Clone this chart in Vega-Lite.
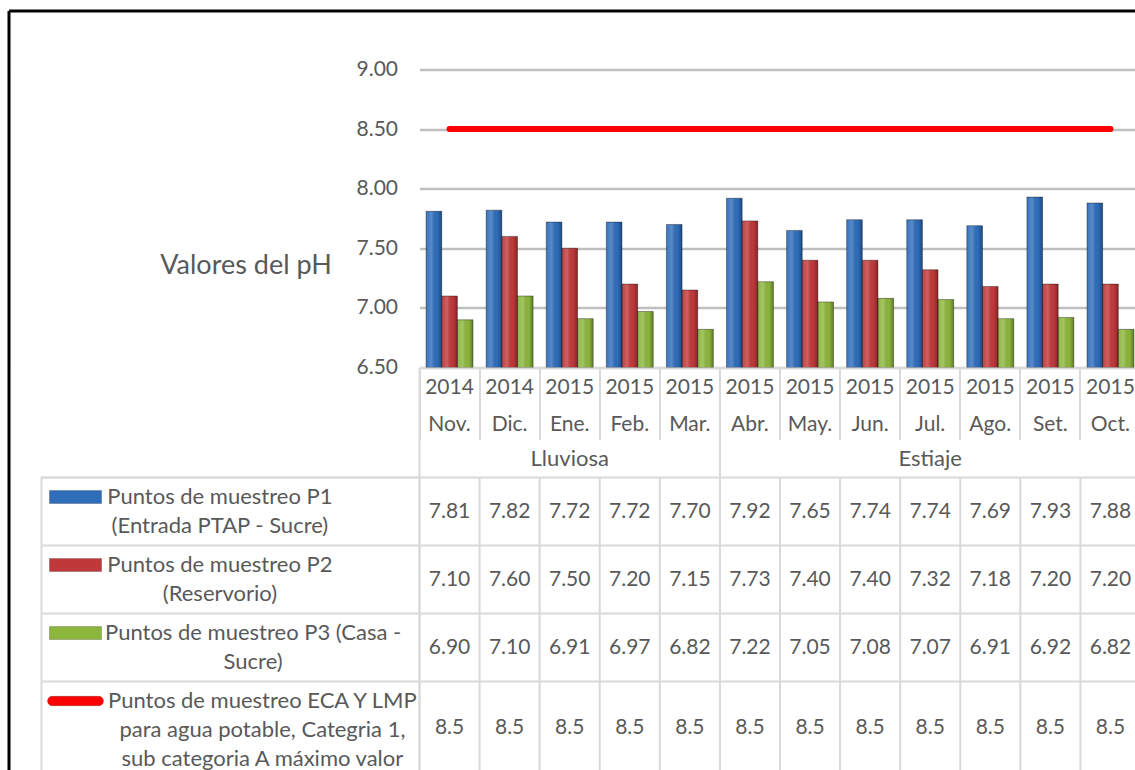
{
  "$schema": "https://vega.github.io/schema/vega-lite/v6.json",
  "background": "white",
  "padding": {"left": 7.5, "top": 10.5, "right": 0, "bottom": 0},
  "columns": 2,
  "spacing": 0,
  "bounds": "flush",
  "config": {
    "font": "Lato",
    "view": {"stroke": null},
    "axis": {"labelColor": "#595959", "titleColor": "#595959", "labelFont": "Lato", "titleFont": "Lato"},
    "text": {"color": "#595959", "font": "Lato"}
  },
  "resolve": {"scale": {"color": "independent", "shape": "independent"}},
  "datasets": {
    "ph": [
      {"cat": "2014 Nov.", "series": "P1", "value": 7.81},
      {"cat": "2014 Dic.", "series": "P1", "value": 7.82},
      {"cat": "2015 Ene.", "series": "P1", "value": 7.72},
      {"cat": "2015 Feb.", "series": "P1", "value": 7.72},
      {"cat": "2015 Mar.", "series": "P1", "value": 7.70},
      {"cat": "2015 Abr.", "series": "P1", "value": 7.92},
      {"cat": "2015 May.", "series": "P1", "value": 7.65},
      {"cat": "2015 Jun.", "series": "P1", "value": 7.74},
      {"cat": "2015 Jul.", "series": "P1", "value": 7.74},
      {"cat": "2015 Ago.", "series": "P1", "value": 7.69},
      {"cat": "2015 Set.", "series": "P1", "value": 7.93},
      {"cat": "2015 Oct.", "series": "P1", "value": 7.88},
      {"cat": "2014 Nov.", "series": "P2", "value": 7.10},
      {"cat": "2014 Dic.", "series": "P2", "value": 7.60},
      {"cat": "2015 Ene.", "series": "P2", "value": 7.50},
      {"cat": "2015 Feb.", "series": "P2", "value": 7.20},
      {"cat": "2015 Mar.", "series": "P2", "value": 7.15},
      {"cat": "2015 Abr.", "series": "P2", "value": 7.73},
      {"cat": "2015 May.", "series": "P2", "value": 7.40},
      {"cat": "2015 Jun.", "series": "P2", "value": 7.40},
      {"cat": "2015 Jul.", "series": "P2", "value": 7.32},
      {"cat": "2015 Ago.", "series": "P2", "value": 7.18},
      {"cat": "2015 Set.", "series": "P2", "value": 7.20},
      {"cat": "2015 Oct.", "series": "P2", "value": 7.20},
      {"cat": "2014 Nov.", "series": "P3", "value": 6.90},
      {"cat": "2014 Dic.", "series": "P3", "value": 7.10},
      {"cat": "2015 Ene.", "series": "P3", "value": 6.91},
      {"cat": "2015 Feb.", "series": "P3", "value": 6.97},
      {"cat": "2015 Mar.", "series": "P3", "value": 6.82},
      {"cat": "2015 Abr.", "series": "P3", "value": 7.22},
      {"cat": "2015 May.", "series": "P3", "value": 7.05},
      {"cat": "2015 Jun.", "series": "P3", "value": 7.08},
      {"cat": "2015 Jul.", "series": "P3", "value": 7.07},
      {"cat": "2015 Ago.", "series": "P3", "value": 6.91},
      {"cat": "2015 Set.", "series": "P3", "value": 6.92},
      {"cat": "2015 Oct.", "series": "P3", "value": 6.82},
      {"cat": "2014 Nov.", "series": "ECA", "value": 8.5},
      {"cat": "2014 Dic.", "series": "ECA", "value": 8.5},
      {"cat": "2015 Ene.", "series": "ECA", "value": 8.5},
      {"cat": "2015 Feb.", "series": "ECA", "value": 8.5},
      {"cat": "2015 Mar.", "series": "ECA", "value": 8.5},
      {"cat": "2015 Abr.", "series": "ECA", "value": 8.5},
      {"cat": "2015 May.", "series": "ECA", "value": 8.5},
      {"cat": "2015 Jun.", "series": "ECA", "value": 8.5},
      {"cat": "2015 Jul.", "series": "ECA", "value": 8.5},
      {"cat": "2015 Ago.", "series": "ECA", "value": 8.5},
      {"cat": "2015 Set.", "series": "ECA", "value": 8.5},
      {"cat": "2015 Oct.", "series": "ECA", "value": 8.5}
    ],
    "rows": [
      {"series": "P1", "label": "Puntos de muestreo P1\n(Entrada PTAP - Sucre)"},
      {"series": "P2", "label": "Puntos de muestreo P2\n(Reservorio)"},
      {"series": "P3", "label": "Puntos de muestreo P3 (Casa -\nSucre)"},
      {"series": "ECA", "label": "Puntos de muestreo ECA Y LMP\npara agua potable,  Categria 1,\nsub categoria A máximo valor"}
    ],
    "seasons": [
      {"season": "Lluviosa", "first": "2014 Nov.", "mid": "2015 Ene."},
      {"season": "Estiaje", "first": "2015 Abr.", "mid": "2015 Jul."}
    ]
  },
  "concat": [
    {
      "width": 378, "height": 59,
      "data": {"values": []},
      "mark": {"type": "point", "opacity": 0},
      "encoding": {
        "x": {"field": "fx", "type": "quantitative", "scale": {"domain": [0, 1], "range": [-33, 378]},
          "axis": {"orient": "top", "domain": true, "domainColor": "#000000", "domainWidth": 3, "ticks": false, "labels": false, "grid": false, "title": null}},
        "y": {"field": "fy", "type": "quantitative", "scale": {"domain": [0, 1]},
          "axis": {"orient": "left", "offset": 33, "domain": true, "domainColor": "#000000", "domainWidth": 3, "ticks": false, "labels": false, "grid": false, "title": null}}
      }
    },
    {
      "width": 721, "height": 59,
      "data": {"values": []},
      "mark": {"type": "point", "opacity": 0},
      "encoding": {
        "x": {"field": "fx", "type": "quantitative", "scale": {"domain": [0, 1]},
          "axis": {"orient": "top", "domain": true, "domainColor": "#000000", "domainWidth": 3, "ticks": false, "labels": false, "grid": false, "title": null}}
      }
    },
    {
      "width": 378, "height": 298,
      "data": {"values": []},
      "mark": {"type": "point", "opacity": 0},
      "encoding": {
        "y": {"field": "fy", "type": "quantitative", "scale": {"domain": [0, 1]},
          "axis": {"orient": "left", "offset": 33, "domain": true, "domainColor": "#000000", "domainWidth": 3, "ticks": false, "labels": false, "grid": false, "title": null}}
      }
    },
    {
      "width": 721, "height": 298,
      "data": {"name": "ph"},
      "encoding": {
        "x": {
          "field": "cat", "type": "nominal",
          "scale": {"type": "band", "domain": ["2014 Nov.", "2014 Dic.", "2015 Ene.", "2015 Feb.", "2015 Mar.", "2015 Abr.", "2015 May.", "2015 Jun.", "2015 Jul.", "2015 Ago.", "2015 Set.", "2015 Oct."], "paddingInner": 0, "paddingOuter": 0},
          "axis": {
            "title": null, "orient": "bottom", "bandPosition": 0,
            "domain": true, "domainColor": "#d9d9d9", "domainWidth": 2,
            "ticks": true, "tickSize": 72, "tickColor": "#d9d9d9", "tickWidth": 2,
            "labelAngle": 0, "labelAlign": "center", "labelBaseline": "top",
            "labelExpr": "split(datum.value, ' ')",
            "labelFontSize": 21, "labelLineHeight": 37, "labelPadding": -63,
            "labelOverlap": false, "labelBound": false, "labelFlush": false
          }
        },
        "y": {
          "field": "value", "type": "quantitative",
          "scale": {"domain": [6.5, 9], "zero": false, "nice": false},
          "axis": {
            "values": [6.5, 7, 7.5, 8, 8.5, 9], "format": ".2f",
            "domain": false, "ticks": false, "grid": true, "gridColor": "#bfbfbf", "gridWidth": 2.5,
            "labelFontSize": 21, "labelPadding": 22,
            "title": "Valores del pH", "titleAngle": 0, "titleFontSize": 27, "titleFontWeight": "normal",
            "titleX": -174, "titleY": 196, "titleAlign": "center", "titleBaseline": "middle"
          }
        }
      },
      "layer": [
        {
          "transform": [{"filter": "datum.series != 'ECA'"}],
          "mark": {"type": "bar", "clip": true},
          "encoding": {
            "y2": {"datum": 6.5},
            "xOffset": {"field": "series", "type": "nominal", "scale": {"domain": ["P1", "P2", "P3"], "paddingInner": 0, "paddingOuter": 0.42}},
            "color": {"field": "series", "type": "nominal", "scale": {"domain": ["P1", "P2", "P3"], "range": ["#2f6dbb", "#c0393a", "#8db63c"]}, "legend": null}
          }
        },
        {
          "transform": [{"filter": "datum.series != 'ECA'"}],
          "mark": {
            "type": "bar", "clip": true,
            "fill": {"gradient": "linear", "x1": 0, "x2": 1, "y1": 0, "y2": 0, "stops": [
              {"offset": 0, "color": "rgba(255,255,255,0.05)"},
              {"offset": 0.35, "color": "rgba(255,255,255,0.2)"},
              {"offset": 0.7, "color": "rgba(0,0,0,0)"},
              {"offset": 1, "color": "rgba(0,0,0,0.3)"}
            ]},
            "stroke": "rgba(0,0,0,0.45)", "strokeWidth": 0.8
          },
          "encoding": {
            "y2": {"datum": 6.5},
            "xOffset": {"field": "series", "type": "nominal", "scale": {"domain": ["P1", "P2", "P3"], "paddingInner": 0, "paddingOuter": 0.42}}
          }
        },
        {
          "transform": [{"filter": "datum.series == 'ECA'"}],
          "mark": {"type": "line", "color": "#ff0000", "strokeWidth": 6, "strokeCap": "round"},
          "encoding": {}
        }
      ]
    },
    {
      "width": 378, "height": 110,
      "data": {"values": []},
      "mark": {"type": "point", "opacity": 0},
      "encoding": {
        "y": {"field": "fy", "type": "quantitative", "scale": {"domain": [0, 1]},
          "axis": {"orient": "left", "offset": 33, "domain": true, "domainColor": "#000000", "domainWidth": 3, "ticks": false, "labels": false, "grid": false, "title": null}}
      }
    },
    {
      "width": 721, "height": 110,
      "data": {"name": "seasons"},
      "layer": [
        {
          "mark": {"type": "rule", "color": "#d9d9d9", "strokeWidth": 2},
          "encoding": {
            "x": {"field": "first", "type": "nominal", "bandPosition": 0,
              "scale": {"type": "band", "domain": ["2014 Nov.", "2014 Dic.", "2015 Ene.", "2015 Feb.", "2015 Mar.", "2015 Abr.", "2015 May.", "2015 Jun.", "2015 Jul.", "2015 Ago.", "2015 Set.", "2015 Oct."], "paddingInner": 0, "paddingOuter": 0},
              "axis": null}
          }
        },
        {
          "mark": {"type": "text", "fontSize": 22, "align": "center", "baseline": "middle"},
          "encoding": {
            "x": {"field": "mid", "type": "nominal", "axis": null},
            "y": {"datum": "season", "type": "nominal", "scale": {"type": "band", "domain": ["header-1", "header-2", "season"], "paddingInner": 0, "paddingOuter": 0}, "axis": null},
            "text": {"field": "season"}
          }
        }
      ]
    },
    {
      "width": 378, "height": 306,
      "view": {"stroke": "#d9d9d9", "strokeWidth": 2},
      "data": {"name": "rows"},
      "encoding": {
        "y": {"field": "series", "type": "nominal", "bandPosition": 1.15,
          "scale": {"type": "band", "domain": ["P1", "p1b", "p1c", "p1d", "P2", "p2b", "p2c", "p2d", "P3", "p3b", "p3c", "p3d", "ECA", "e2", "e3", "e4", "e5", "e6"], "paddingInner": 0, "paddingOuter": 0},
          "axis": {"orient": "left", "offset": 33, "domain": true, "domainColor": "#000000", "domainWidth": 3, "ticks": false, "labels": false, "grid": false, "title": null}}
      },
      "layer": [
        {
          "mark": {"type": "rule", "color": "#d9d9d9", "strokeWidth": 2},
          "encoding": {
            "y": {"field": "series", "type": "nominal", "bandPosition": 0,
              "axis": {"orient": "left", "offset": 33, "domain": true, "domainColor": "#000000", "domainWidth": 3, "ticks": false, "labels": false, "grid": false, "title": null}}
          }
        },
        {
          "mark": {"type": "point", "filled": true, "size": 3136, "opacity": 1, "xOffset": -155, "stroke": "rgba(0,0,0,0.35)", "strokeWidth": 0.6},
          "encoding": {
            "color": {"field": "series", "type": "nominal", "scale": {"domain": ["P1", "P2", "P3", "ECA"], "range": ["#2f6dbb", "#c0393a", "#8db63c", "#ff0000"]}, "legend": null},
            "shape": {"field": "series", "type": "nominal", "scale": {"domain": ["P1", "P2", "P3", "ECA"], "range": ["M-0.93,-0.23H0.93V0.23H-0.93Z", "M-0.93,-0.23H0.93V0.23H-0.93Z", "M-0.93,-0.23H0.93V0.23H-0.93Z", "M-0.83,-0.17H0.83A0.17,0.17 0 0 1 0.83,0.17H-0.83A0.17,0.17 0 0 1 -0.83,-0.17Z"]}, "legend": null}
          }
        },
        {
          "mark": {"type": "text", "fontSize": 22, "align": "center", "baseline": "middle", "lineBreak": "\n", "lineHeight": 29,
            "dx": {"expr": "-123 + (11.4 * length(split(datum.label, '\\n')[0]) + 3.2 * length(replace(split(datum.label, '\\n')[0], regexp('[^A-Z]', 'g'), '')) - 7 * length(replace(split(datum.label, '\\n')[0], regexp('[^ (-]', 'g'), ''))) / 2"}},
          "encoding": {
            "text": {"field": "label"}
          }
        }
      ]
    },
    {
      "width": 721, "height": 306,
      "data": {"name": "ph"},
      "encoding": {
        "x": {
          "field": "cat", "type": "nominal",
          "scale": {"type": "band", "domain": ["2014 Nov.", "2014 Dic.", "2015 Ene.", "2015 Feb.", "2015 Mar.", "2015 Abr.", "2015 May.", "2015 Jun.", "2015 Jul.", "2015 Ago.", "2015 Set.", "2015 Oct."], "paddingInner": 0, "paddingOuter": 0},
          "axis": null
        },
        "y": {"field": "series", "type": "nominal", "bandPosition": 2,
          "scale": {"type": "band", "domain": ["P1", "p1b", "p1c", "p1d", "P2", "p2b", "p2c", "p2d", "P3", "p3b", "p3c", "p3d", "ECA", "e2", "e3", "e4", "e5", "e6"], "paddingInner": 0, "paddingOuter": 0},
          "axis": null}
      },
      "layer": [
        {
          "transform": [{"filter": "datum.series == 'P1'"}],
          "mark": {"type": "rule", "color": "#d9d9d9", "strokeWidth": 2},
          "encoding": {
            "x": {"field": "cat", "type": "nominal", "bandPosition": 0, "axis": null},
            "y": null
          }
        },
        {
          "transform": [{"filter": "datum.cat == '2014 Nov.'"}],
          "mark": {"type": "rule", "color": "#d9d9d9", "strokeWidth": 2},
          "encoding": {
            "x": null,
            "y": {"field": "series", "type": "nominal", "bandPosition": 0, "axis": null}
          }
        },
        {
          "transform": [{"filter": "datum.series != 'ECA'"}],
          "mark": {"type": "text", "fontSize": 21, "align": "center", "baseline": "middle"},
          "encoding": {
            "text": {"field": "value", "type": "quantitative", "format": ".2f"}
          }
        },
        {
          "transform": [{"filter": "datum.series == 'ECA'"}],
          "mark": {"type": "text", "fontSize": 21, "align": "center", "baseline": "middle"},
          "encoding": {
            "y": {"field": "series", "type": "nominal", "bandPosition": 2.75, "axis": null},
            "text": {"field": "value", "type": "quantitative", "format": ".1f"}
          }
        }
      ]
    }
  ]
}
